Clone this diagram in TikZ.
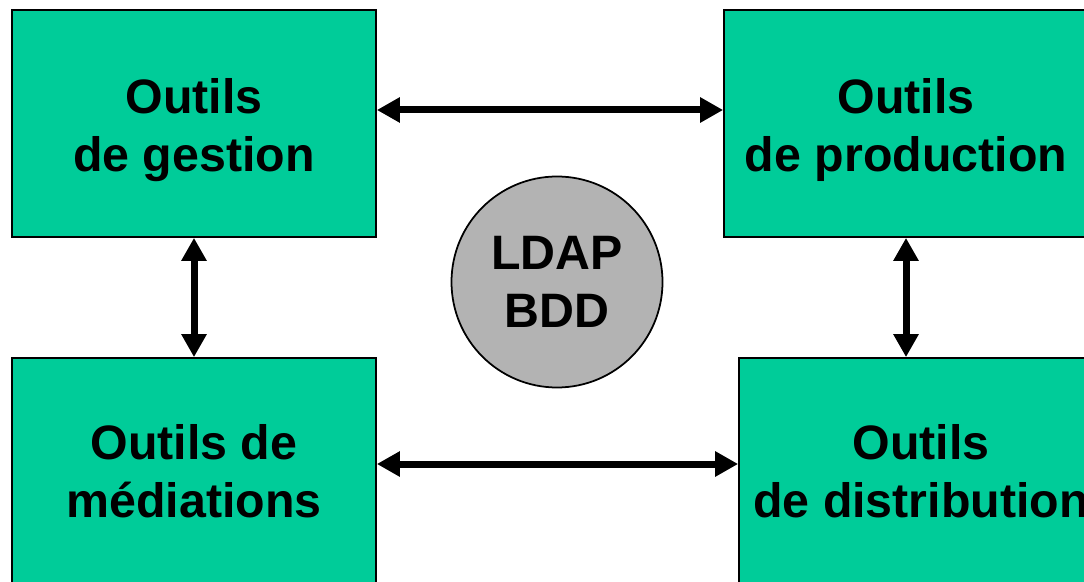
\documentclass[tikz,border=0pt]{standalone}
\usepackage{fontspec}
\setmainfont{Liberation Sans}
\usetikzlibrary{arrows.meta}
\definecolor{vert}{RGB}{0,204,153}
\definecolor{gris}{RGB}{179,179,179}
\newcommand{\hautligne}{\rule{0pt}{0.95cm}}

\begin{document}
\begin{tikzpicture}
%styles des noeuds
\tikzstyle{outil}=[rectangle,draw,line width=1pt,fill=vert,minimum width=7.28cm,minimum height=4.54cm,align=center,font=\bfseries\fontsize{27.5}{33}\selectfont]
\tikzstyle{base}=[circle,draw,line width=1pt,fill=gris,minimum size=4.22cm,inner sep=0pt,align=center,font=\bfseries\fontsize{27.5}{33}\selectfont]
%style des fleches
\tikzstyle{fleche}=[{Triangle[length=0.46cm,width=0.48cm]}-{Triangle[length=0.46cm,width=0.48cm]},line width=0.14cm]
\useasboundingbox (0,0) rectangle (21.68,-11.64);
%placement des noeuds
\node[outil] (gestion) at (3.88,-2.47) {\hautligne Outils\\de gestion};
\node[outil] (production) at (18.12,-2.47) {\hautligne Outils\\de production};
\node[outil] (mediations) at (3.88,-9.43) {Outils de\\médiations};
\node[outil] (distribution) at (18.42,-9.43) {Outils\\de distribution};
\node[base] (ldap) at (11.14,-5.64) {LDAP\\BDD};
%placement des fleches
\draw[fleche] ([yshift=0.27cm]gestion.east) -- ([yshift=0.27cm]production.west);
\draw[fleche] (gestion.south) -- (mediations.north);
\draw[fleche] (production.south) -- (production.south |- distribution.north);
\draw[fleche] ([yshift=0.15cm]mediations.east) -- ([yshift=0.15cm]distribution.west);
\end{tikzpicture}
\end{document}
